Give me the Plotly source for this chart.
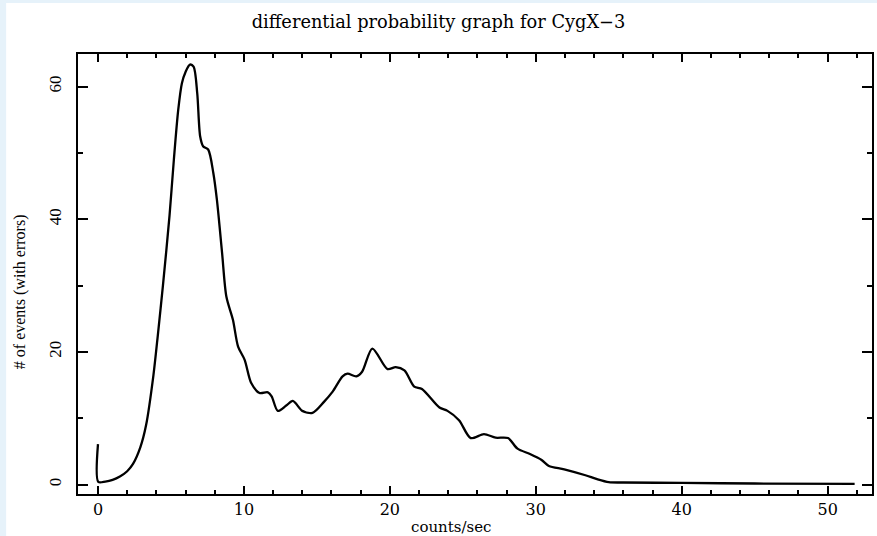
import plotly.graph_objects as go

counts = [0.0, 0.02, 0.5, 1.0, 1.5, 2.0, 2.4, 2.9, 3.3, 3.8, 4.1, 4.45, 4.9, 5.2, 5.5, 5.75, 6.0,
          6.3, 6.55, 6.8, 7.0, 7.2, 7.55, 7.9, 8.15, 8.5, 8.8, 9.25, 9.6, 10.05, 10.5,
          11.07, 11.64, 11.9, 12.32, 12.9, 13.35, 14.0, 14.7, 15.5, 16.08, 16.76, 17.1, 17.7, 18.1,
          18.8, 19.84, 20.4, 21.0, 21.67, 22.2, 23.4, 23.95, 24.74, 25.54, 26.45, 27.25, 28.1,
          28.75, 29.6, 30.4, 30.9, 31.95, 33.4, 34.2, 35.0, 36.0, 40.0, 45.0, 51.85]
events = [6.1, 0.4, 0.45, 0.7, 1.2, 2.0, 3.1, 5.6, 9.0, 16.5, 22.5, 30.0, 40.5, 49.0, 56.5, 60.5, 62.2,
          63.3, 63.0, 59.0, 52.5, 51.0, 50.5, 47.0, 42.9, 35.0, 28.3, 24.8, 20.8, 18.8, 15.3,
          13.8, 13.9, 13.3, 11.1, 11.9, 12.6, 11.1, 10.8, 12.5, 14.0, 16.3, 16.7, 16.3, 17.0,
          20.5, 17.4, 17.7, 17.2, 14.75, 14.4, 11.6, 11.1, 9.7, 7.0, 7.6, 7.06, 7.0,
          5.4, 4.6, 3.7, 2.8, 2.3, 1.4, 0.8, 0.35, 0.3, 0.25, 0.15, 0.1]

title_text = "differential probability graph for CygX\u22123"
x_title = "counts/sec"
y_title = "# of events (with errors)"

HFONT = "DejaVu Serif"
VFONT = "Liberation Serif"

fig = go.Figure()
fig.add_trace(go.Scatter(x=counts, y=events, mode="lines",
                         line=dict(color="black", width=2.3, shape="spline", smoothing=0.8),
                         hoverinfo="skip", showlegend=False))

axis_common = dict(showgrid=False, zeroline=False, showline=True, linecolor="black", linewidth=1.5,
                   mirror="allticks", ticks="inside", tickcolor="black", tickwidth=1.5)

fig.update_xaxes(range=[-1.37, 53.04], tickvals=[0, 10, 20, 30, 40, 50], ticklen=8,
                 tickfont=dict(family=HFONT, size=16, color="black"),
                 minor=dict(dtick=2, tick0=0, ticks="inside", ticklen=4, tickcolor="black", tickwidth=1.5),
                 **axis_common)
fig.update_yaxes(range=[-1.43, 64.9], tickvals=[0, 20, 40, 60], ticklen=10, tickangle=-90,
                 tickfont=dict(family=VFONT, size=17, color="black"), ticklabelstandoff=8,
                 minor=dict(dtick=10, tick0=0, ticks="inside", ticklen=5, tickcolor="black", tickwidth=1.5),
                 **axis_common)

fig.add_shape(type="rect", xref="paper", yref="paper", x0=-0.0905, x1=1.01, y0=-0.1, y1=1.1161,
              fillcolor="white", line=dict(width=0), layer="below")

fig.add_annotation(text=x_title, xref="paper", yref="paper", x=0.4698, y=-0.075,
                   xanchor="center", yanchor="middle", showarrow=False,
                   font=dict(family=HFONT, size=15, color="black"))
fig.add_annotation(text=y_title, xref="paper", yref="paper", x=-0.0729, y=0.459,
                   xanchor="center", yanchor="middle", showarrow=False, textangle=-90,
                   font=dict(family=VFONT, size=16, color="black"))

fig.update_layout(
    width=877, height=536,
    margin=dict(l=78, r=3, t=54, b=42),
    paper_bgcolor="#e6f2fa", plot_bgcolor="white",
    title=dict(text=title_text, x=0.5, xref="container", xanchor="center",
               y=1 - 22 / 536, yref="container", yanchor="middle",
               font=dict(family=HFONT, size=17.8, color="black")),
)

fig.write_html("out.html")
